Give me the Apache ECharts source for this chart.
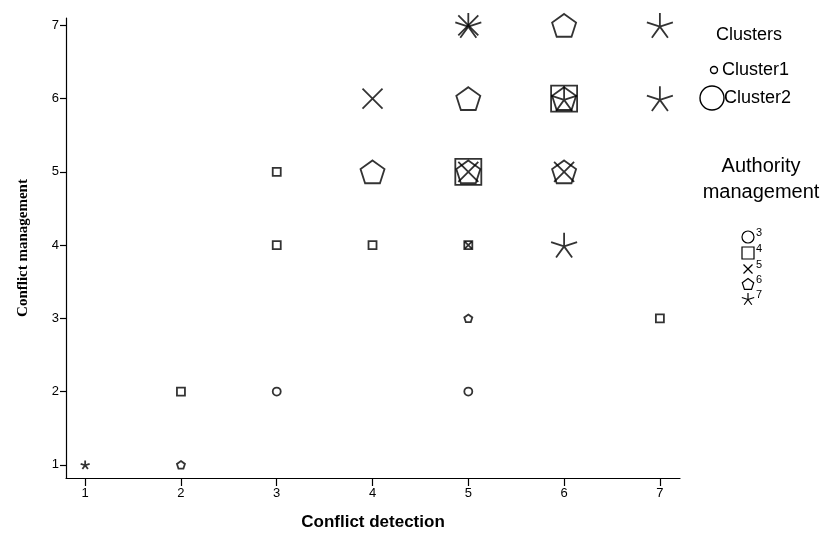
<!DOCTYPE html>
<html>
<head>
<meta charset="utf-8">
<script src="https://cdn.jsdelivr.net/npm/echarts@6/dist/echarts.min.js"></script>
<style>html,body{margin:0;padding:0;background:#fff}#c{width:827px;height:534px}</style>
</head>
<body>
<div id="c"></div>
<script>
// ---- data ----
const xTicks = [1, 2, 3, 4, 5, 6, 7];
const yTicks = [1, 2, 3, 4, 5, 6, 7];
const clusterNames = ['Cluster1', 'Cluster2'];
const authorityLevels = ['3', '4', '5', '6', '7'];
// points [conflict detection, conflict management] per authority level and cluster
const level3Cluster1 = [[3, 2], [5, 2]];
const level3Cluster2 = [];
const level4Cluster1 = [[2, 2], [3, 4], [3, 5], [4, 4], [5, 4], [7, 3]];
const level4Cluster2 = [[5, 5], [6, 6]];
const level5Cluster1 = [[5, 4]];
const level5Cluster2 = [[4, 6], [5, 5], [5, 7], [6, 5]];
const level6Cluster1 = [[2, 1], [5, 3]];
const level6Cluster2 = [[4, 5], [5, 5], [5, 6], [6, 5], [6, 6], [6, 7]];
const level7Cluster1 = [[1, 1]];
const level7Cluster2 = [[5, 7], [6, 4], [6, 6], [7, 6], [7, 7]];

// ---- styles ----
const PENT = 'path://M50 0 L97.55 34.55 L79.39 90.45 L20.61 90.45 L2.45 34.55 Z';
const CROSS = 'path://M0 0 L100 100 M100 0 L0 100';
const STAR = 'path://M50 50 L50 0 M50 50 L97.55 34.55 M50 50 L79.39 90.45 M50 50 L20.61 90.45 M50 50 L2.45 34.55';
const shapeDefs = {
  '3': { symbol: 'circle', size: [8, 24] },
  '4': { symbol: 'rect', size: [8, 26] },
  '5': { symbol: CROSS, size: [7, 20] },
  '6': { symbol: PENT, size: [8, 24] },
  '7': { symbol: STAR, size: [9, 26] }
};
const groups = {
  '3': [level3Cluster1, level3Cluster2],
  '4': [level4Cluster1, level4Cluster2],
  '5': [level5Cluster1, level5Cluster2],
  '6': [level6Cluster1, level6Cluster2],
  '7': [level7Cluster1, level7Cluster2]
};

const series = [];
authorityLevels.forEach(lv => {
  groups[lv].forEach((pts, ci) => {
    series.push({
      type: 'scatter',
      name: lv + ' ' + clusterNames[ci],
      data: pts,
      symbol: shapeDefs[lv].symbol,
      symbolSize: shapeDefs[lv].size[ci],
      symbolKeepAspect: true,
      itemStyle: { color: 'rgba(0,0,0,0)', borderColor: '#000', borderWidth: 1.8 },
      emphasis: { disabled: true },
      silent: true,
      z: 3
    });
  });
});

const FONT = 'Liberation Sans, Arial, sans-serif';
const graphic = [];
graphic.push({ type: 'text', x: 749, y: 35, style: { text: 'Clusters', font: '18px ' + FONT, fill: '#000', align: 'center', verticalAlign: 'middle' } });
graphic.push({ type: 'circle', shape: { cx: 714, cy: 70, r: 3.5 }, style: { fill: 'none', stroke: '#000', lineWidth: 1.4 } });
graphic.push({ type: 'text', x: 722, y: 70, style: { text: 'Cluster1', font: '18px ' + FONT, fill: '#000', verticalAlign: 'middle' } });
graphic.push({ type: 'circle', shape: { cx: 712, cy: 98, r: 12 }, style: { fill: 'none', stroke: '#000', lineWidth: 1.4 } });
graphic.push({ type: 'text', x: 724, y: 98, style: { text: 'Cluster2', font: '18px ' + FONT, fill: '#000', verticalAlign: 'middle' } });
graphic.push({ type: 'text', x: 761, y: 166, style: { text: 'Authority', font: '20px ' + FONT, fill: '#000', align: 'center', verticalAlign: 'middle' } });
graphic.push({ type: 'text', x: 761, y: 192, style: { text: 'management', font: '20px ' + FONT, fill: '#000', align: 'center', verticalAlign: 'middle' } });
const lgY = [237, 253, 269, 284, 299];
const lgX = 748;
const ls = { fill: 'none', stroke: '#000', lineWidth: 1.2 };
graphic.push({ type: 'circle', shape: { cx: lgX, cy: lgY[0], r: 6 }, style: ls });
graphic.push({ type: 'rect', shape: { x: lgX - 6, y: lgY[1] - 6, width: 12, height: 12 }, style: ls });
graphic.push({ type: 'polyline', shape: { points: [[lgX - 4.5, lgY[2] - 4.5], [lgX + 4.5, lgY[2] + 4.5]] }, style: ls });
graphic.push({ type: 'polyline', shape: { points: [[lgX + 4.5, lgY[2] - 4.5], [lgX - 4.5, lgY[2] + 4.5]] }, style: ls });
(function () {
  const r = 6, pts = [];
  for (let k = 0; k < 5; k++) { const a = -Math.PI / 2 + k * 2 * Math.PI / 5; pts.push([lgX + r * Math.cos(a), lgY[3] + 0.6 + r * Math.sin(a)]); }
  graphic.push({ type: 'polygon', shape: { points: pts }, style: ls });
  for (let k = 0; k < 5; k++) {
    const a = -Math.PI / 2 + k * 2 * Math.PI / 5;
    graphic.push({ type: 'line', shape: { x1: lgX, y1: lgY[4] + 0.5, x2: lgX + 6.5 * Math.cos(a), y2: lgY[4] + 0.5 + 6.5 * Math.sin(a) }, style: ls });
  }
})();
authorityLevels.forEach((lv, i) => {
  graphic.push({ type: 'text', x: 756, y: lgY[i] - 4, style: { text: lv, font: '11px ' + FONT, fill: '#000', verticalAlign: 'middle' } });
});

const chart = echarts.init(document.getElementById('c'), null, { renderer: 'canvas' });
chart.setOption({
  animation: false,
  backgroundColor: '#fff',
  grid: { left: 66, right: 147, top: 18, bottom: 56, containLabel: false, outerBoundsMode: 'none' },
  xAxis: {
    type: 'value', min: 0.8, max: 7.21,
    name: 'Conflict detection', nameLocation: 'middle', nameGap: 36,
    nameTextStyle: { fontFamily: FONT, fontWeight: 'bold', fontSize: 17, color: '#000' },
    axisLine: { onZero: false, lineStyle: { color: '#000', width: 1.2 } },
    axisTick: { show: true, length: 8, lineStyle: { color: '#000', width: 1.2 }, customValues: xTicks },
    axisLabel: { margin: 9, fontFamily: FONT, fontSize: 13, color: '#000', customValues: xTicks },
    splitLine: { show: false }
  },
  yAxis: {
    type: 'value', min: 0.82, max: 7.1,
    name: 'Conflict management', nameLocation: 'middle', nameGap: 35,
    nameTextStyle: { fontFamily: 'Liberation Serif, DejaVu Serif, serif', fontWeight: 'bold', fontSize: 15, color: '#000' },
    axisLine: { onZero: false, lineStyle: { color: '#000', width: 1.2 } },
    axisTick: { show: true, length: 6, lineStyle: { color: '#000', width: 1.2 }, customValues: yTicks },
    axisLabel: { margin: 7, fontFamily: FONT, fontSize: 13, color: '#000', customValues: yTicks },
    splitLine: { show: false }
  },
  graphic: graphic,
  series: series
});
</script>
</body>
</html>
